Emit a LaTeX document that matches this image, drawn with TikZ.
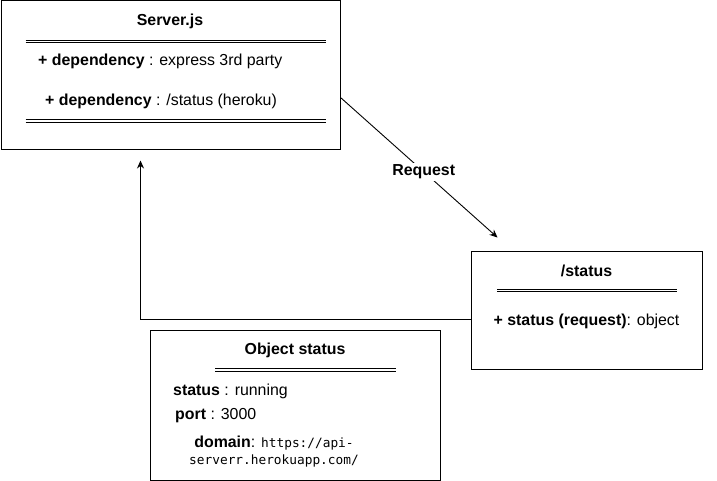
\documentclass[tikz,border=0pt]{standalone}
\usepackage{fontspec}
\setmainfont{Liberation Sans}
\newfontfamily\codefont{DejaVu Sans Mono}
\usetikzlibrary{arrows.meta,calc}
\tikzset{
  x=1pt, y=1pt,
  box/.style={draw=black, line width=1pt, fill=white, rectangle, inner sep=0pt},
  txt/.style={inner sep=0pt, font=\fontsize{15.9}{18}\selectfont, text=black},
  code/.style={inner sep=0pt, align=center, font=\fontsize{15.9}{17}\selectfont},
  dbl/.style={draw=black, line width=0.8pt},
  conn/.style={draw=black, line width=0.9pt, -{Stealth[length=8pt,width=7pt]}},
}
\begin{document}
\begin{tikzpicture}
\useasboundingbox (0,0) rectangle (717,-481);
% Server.js
\node[box, minimum width=339pt, minimum height=149pt] (srv) at (170.5,-75.5) {};
\node[txt] (srvT) at (170,-21) {\textbf{Server.js}};
\draw[dbl] (25.5,-40) -- (325.5,-40) (25.5,-42.5) -- (325.5,-42.5);
\node[txt, anchor=west] (srvA) at (38,-61) {\textbf{+ dependency} : express 3rd party};
\node[txt, anchor=west] (srvB) at (45,-101) {\textbf{+ dependency} : /status (heroku)};
\draw[dbl] (25.5,-119.5) -- (325.5,-119.5) (25.5,-122) -- (325.5,-122);
% /status
\node[box, minimum width=231pt, minimum height=118pt] (stat) at (586.5,-310) {};
\node[txt] (statT) at (586.5,-271) {\textbf{/status}};
\draw[dbl] (497,-289) -- (677,-289) (497,-291.5) -- (677,-291.5);
\node[txt] (statA) at (586.5,-321) {\textbf{+ status (request)}: object};
% Object status
\node[box, minimum width=290pt, minimum height=150pt] (obj) at (295,-405) {};
\node[txt] (objT) at (295,-350.5) {\textbf{Object status}};
\draw[dbl] (215,-368.5) -- (396,-368.5) (215,-371) -- (396,-371);
\node[txt, anchor=west] (objA) at (173,-391) {\textbf{status} : running};
\node[txt, anchor=west] (objB) at (175,-415.5) {\textbf{port} : 3000};
\node[code] (objC) at (274,-451.5) {\textbf{domain}: {\codefont\fontsize{12.8}{17}\selectfont https://api-}\\{\codefont\fontsize{12.8}{17}\selectfont serverr.herokuapp.com/}};
% connectors
\coordinate (reqS) at ($(srv.north east)+(0,-97)$);
\coordinate (reqE) at ($(stat.north west)+(27,13)$);
\draw[conn] (reqS) -- node[txt, pos=0.53, fill=white, inner sep=2pt] (reqL) {\textbf{Request}} (reqE);
\coordinate (retS) at ($(stat.north west)+(0,-69)$);
\coordinate (retE) at ($(srv.south west)+(140,-10)$);
\draw[conn] (retS) -| (retE);
\end{tikzpicture}
\end{document}
